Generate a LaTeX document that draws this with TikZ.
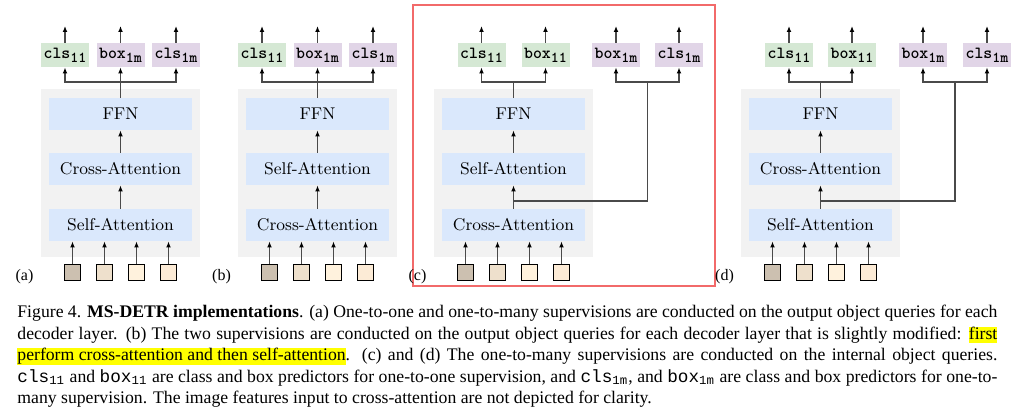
\documentclass[tikz,border=0pt]{standalone}
\usepackage{fontspec}
\newfontfamily\timesfont{Liberation Serif}
\newfontfamily\courfont{Liberation Mono}
\usetikzlibrary{arrows.meta}
\definecolor{bgg}{HTML}{F2F2F2}
\definecolor{blu}{HTML}{DAE8FC}
\definecolor{grn}{HTML}{D5E8D4}
\definecolor{pur}{HTML}{E1D5E7}
\definecolor{sqa}{HTML}{CCC0B0}
\definecolor{sqb}{HTML}{EEE0CC}
\definecolor{sqc}{HTML}{FFF2DD}
\definecolor{sqd}{HTML}{FCEBD6}
\definecolor{redb}{HTML}{F26A6A}
\definecolor{ln}{HTML}{4A4A4A}
\definecolor{hly}{HTML}{FFFF00}
\newcommand\outlbl[2]{#1\raisebox{-2pt}{\fontsize{7.6}{8}\selectfont #2}}
\newcommand\capcode[2]{{\courfont #1}\textsubscript{\courfont #2}}
\newcommand\hlt[1]{{\fboxsep=0pt\colorbox{hly}{\rule[-1.9pt]{0pt}{8.1pt}#1}}}
\tikzset{
  layer/.style={fill=blu, minimum width=71.5pt, minimum height=16pt, inner sep=0pt, font=\fontsize{8.5}{10}\selectfont},
  bgbox/.style={fill=bgg, minimum width=79.5pt, minimum height=84pt, inner sep=0pt},
  outbox/.style={minimum width=24pt, minimum height=12pt, inner sep=0pt, font=\fontsize{8.5}{10}\selectfont\ttfamily\bfseries},
  qbox/.style={draw=black, line width=0.5pt, minimum size=8pt, inner sep=0pt},
  conn/.style={draw=ln, line width=0.6pt},
  arr/.style={conn, -{Latex[length=3pt,width=2.4pt,color=black]}},
  plabel/.style={font=\timesfont\fontsize{8}{9}\selectfont, inner sep=0pt},
}
% #1 prefix, #2 center x, #3 bottom layer, #4 middle layer
\newcommand\stackpanel[4]{%
  \node[bgbox] (#1bg) at (#2,173) {};
  \node[layer] (#1ffn) at (#2,114) {FFN};
  \node[layer] (#1mid) at (#2,169) {#4};
  \node[layer] (#1bot) at (#2,225) {#3};
  \foreach \qi/\dx/\col in {1/-48/sqa,2/-16/sqb,3/16/sqc,4/48/sqd}{
    \node[qbox, fill=\col] (#1q\qi) at ({#2+\dx},272) {};
    \draw[arr] (#1q\qi.north) -- (#1q\qi.north |- #1bot.south);
  }
  \draw[arr] (#1bot.north) -- (#1mid.south);
  \draw[arr] (#1mid.north) -- (#1ffn.south);
  \node[plabel] (#1lab) at ({#2-96},277) {(#1)};
}
\begin{document}
\begin{tikzpicture}[x=0.5pt,y=-0.5pt]
\path[use as bounding box, fill=white] (0,0) rectangle (1017,417);
\coordinate (top) at (0,26);
\coordinate (brk) at (0,82);

% ---------- (a)
\stackpanel{a}{120.5}{Self-Attention}{Cross-Attention}
\node[outbox, fill=grn] (acls11) at (65,55) {\outlbl{cls}{11}};
\node[outbox, fill=pur] (abox1m) at (120.5,55) {\outlbl{box}{1m}};
\node[outbox, fill=pur] (acls1m) at (176,55) {\outlbl{cls}{1m}};
\coordinate (aj) at (affn.north |- brk);
\draw[arr] (affn.north) -- (abox1m.south);
\draw[arr] (aj) -| (acls11.south);
\draw[arr] (aj) -| (acls1m.south);
\foreach \o in {acls11,abox1m,acls1m}{\draw[arr] (\o.north) -- (\o.north |- top);}

% ---------- (b)
\stackpanel{b}{317.5}{Cross-Attention}{Self-Attention}
\node[outbox, fill=grn] (bcls11) at (262,55) {\outlbl{cls}{11}};
\node[outbox, fill=pur] (bbox1m) at (317.5,55) {\outlbl{box}{1m}};
\node[outbox, fill=pur] (bcls1m) at (373,55) {\outlbl{cls}{1m}};
\coordinate (bj) at (bffn.north |- brk);
\draw[arr] (bffn.north) -- (bbox1m.south);
\draw[arr] (bj) -| (bcls11.south);
\draw[arr] (bj) -| (bcls1m.south);
\foreach \o in {bcls11,bbox1m,bcls1m}{\draw[arr] (\o.north) -- (\o.north |- top);}

% ---------- (c)
\draw[redb, line width=1pt] (413,5) rectangle (715,286);
\stackpanel{c}{513.5}{Cross-Attention}{Self-Attention}
\node[outbox, fill=grn] (ccls11) at (481.5,55) {\outlbl{cls}{11}};
\node[outbox, fill=grn] (cbox11) at (545.5,55) {\outlbl{box}{11}};
\node[outbox, fill=pur] (cbox1m) at (616,55) {\outlbl{box}{1m}};
\node[outbox, fill=pur] (ccls1m) at (679,55) {\outlbl{cls}{1m}};
\coordinate (cj) at (cffn.north |- brk);
\draw[conn] (cffn.north) -- (cj);
\draw[arr] (cj) -| (ccls11.south);
\draw[arr] (cj) -| (cbox11.south);
\coordinate (cb) at (513.5,201);
\coordinate (cr) at (647.5,82);
\draw[conn] (cb) -| (cr);
\draw[arr] (cr) -| (cbox1m.south);
\draw[arr] (cr) -| (ccls1m.south);
\foreach \o in {ccls11,cbox11,cbox1m,ccls1m}{\draw[arr] (\o.north) -- (\o.north |- top);}

% ---------- (d)
\stackpanel{d}{820.5}{Self-Attention}{Cross-Attention}
\node[outbox, fill=grn] (dcls11) at (789,55) {\outlbl{cls}{11}};
\node[outbox, fill=grn] (dbox11) at (852,55) {\outlbl{box}{11}};
\node[outbox, fill=pur] (dbox1m) at (923,55) {\outlbl{box}{1m}};
\node[outbox, fill=pur] (dcls1m) at (987,55) {\outlbl{cls}{1m}};
\coordinate (dj) at (dffn.north |- brk);
\draw[conn] (dffn.north) -- (dj);
\draw[arr] (dj) -| (dcls11.south);
\draw[arr] (dj) -| (dbox11.south);
\coordinate (db) at (820.5,201);
\coordinate (dr) at (955,82);
\draw[conn] (db) -| (dr);
\draw[arr] (dr) -| (dbox1m.south);
\draw[arr] (dr) -| (dcls1m.south);
\foreach \o in {dcls11,dbox11,dbox1m,dcls1m}{\draw[arr] (\o.north) -- (\o.north |- top);}

% ---------- caption
\node[anchor=north west, inner sep=0pt, text width=490pt, align=justify,
      font=\timesfont\fontsize{8.85}{10.75}\selectfont] (cap) at (17,305) {%
Figure 4. \textbf{MS-DETR implementations}. (a) One-to-one and one-to-many supervisions are conducted on the output object queries for each\linebreak
decoder layer. (b) The two supervisions are conducted on the output object queries for each decoder layer that is slightly modified: \hlt{first}\linebreak
\hlt{perform cross-attention and then self-attention}. (c) and (d) The one-to-many supervisions are conducted on the internal object queries.\linebreak
\capcode{cls}{11} and \capcode{box}{11} are class and box predictors for one-to-one supervision, and \capcode{cls}{1m}, and \capcode{box}{1m} are class and box predictors for one-to-\linebreak
many supervision. The image features input to cross-attention are not depicted for clarity.};
\end{tikzpicture}
\end{document}
